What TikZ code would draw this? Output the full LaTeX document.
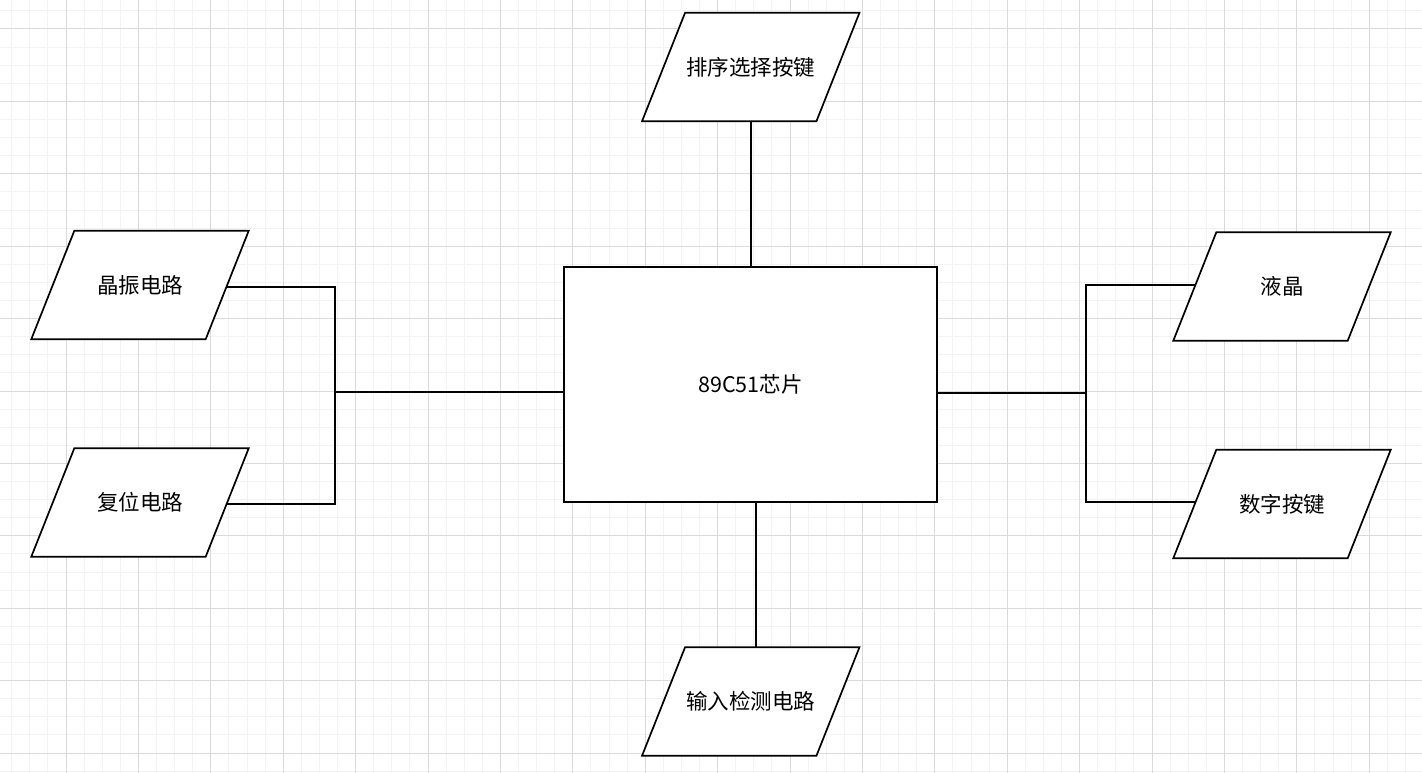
\documentclass[tikz,border=0pt]{standalone}
\usepackage{fontspec}
\setmainfont{Noto Sans CJK SC}
\definecolor{minorgrid}{HTML}{F3F3F3}
\definecolor{majorgrid}{HTML}{DADADA}
\pgfdeclarelayer{gridlayer}
\pgfdeclarelayer{shapelayer}
\pgfsetlayers{gridlayer,shapelayer,main}
\tikzset{
  paratext/.style={shape=rectangle, minimum width=174pt, minimum height=108pt, inner sep=0pt,
    font=\fontsize{21.5}{25}\selectfont},
  paraline/.style={draw=black, line width=1.7pt, fill=white, line join=miter},
  box/.style={draw=black, line width=1.7pt, fill=white, minimum width=373pt, minimum height=235pt,
    inner sep=0pt, font=\fontsize{21.5}{25}\selectfont},
  wire/.style={draw=black, line width=1.7pt},
}
\newcommand{\paraoutline}[1]{%
  \begin{pgfonlayer}{shapelayer}
    \path[paraline] ([xshift=-21.5pt]#1.south west) -- ([xshift=-21.5pt]#1.south east)
      -- ([xshift=21.5pt]#1.north east) -- ([xshift=21.5pt]#1.north west) -- cycle;
  \end{pgfonlayer}}
\begin{document}
\begin{tikzpicture}[x=1pt,y=-1pt]
\useasboundingbox (0,0) rectangle (1422,773);
\begin{pgfonlayer}{gridlayer}
\fill[white] (0,0) rectangle (1422,773);
\foreach \k in {0,...,78} {\draw[minorgrid, line width=1pt] ({11.7+18.1*\k},0) -- ({11.7+18.1*\k},773);}
\foreach \k in {0,...,42} {\draw[minorgrid, line width=1pt] (0,{10.9+18.1*\k}) -- (1422,{10.9+18.1*\k});}
\foreach \k in {0,...,18} {\draw[majorgrid, line width=1pt] ({66+72.4*\k},0) -- ({66+72.4*\k},773);}
\foreach \k in {0,...,10} {\draw[majorgrid, line width=1pt] (0,{29+72.4*\k}) -- (1422,{29+72.4*\k});}
\end{pgfonlayer}
% nodes
\node[box] (chip) at (750.5,384.5) {89C51芯片};
\node[paratext] (px) at (750.75,67) {排序选择按键};
\node[paratext] (sr) at (750.75,701.5) {输入检测电路};
\node[paratext] (jz) at (140,285) {晶振电路};
\node[paratext] (fw) at (140,502.5) {复位电路};
\node[paratext] (yj) at (1282,286.5) {液晶};
\node[paratext] (sz) at (1282,504) {数字按键};
\paraoutline{px}
\paraoutline{sr}
\paraoutline{jz}
\paraoutline{fw}
\paraoutline{yj}
\paraoutline{sz}
\coordinate (lj) at (335,392);
\coordinate (rj) at (1086,393);
\coordinate (bt) at (756,502);
% connectors
\draw[wire] ([yshift=-2pt]jz.east) -| (lj);
\draw[wire] ([yshift=-1.5pt]fw.east) -| (lj);
\draw[wire] (lj) -- (lj -| chip.west);
\draw[wire] ([yshift=1.5pt]yj.west) -| (rj);
\draw[wire] ([yshift=2pt]sz.west) -| (rj);
\draw[wire] (rj) -- (rj -| chip.east);
\draw[wire] (px.south) -- (px.south |- chip.north);
\draw[wire] (bt) -- (bt |- sr.north);
\end{tikzpicture}
\end{document}
